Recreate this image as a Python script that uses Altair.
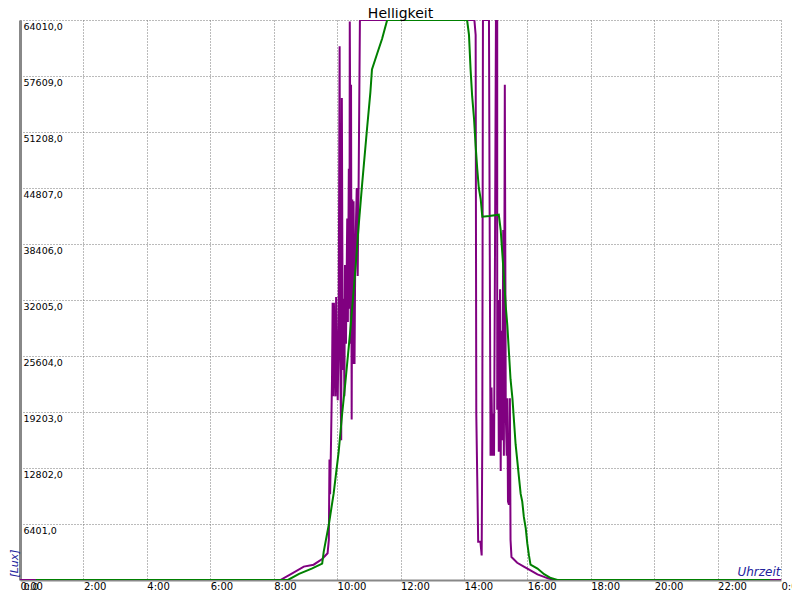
import altair as alt
import pandas as pd

# Purple series (high resolution sensor) : time in hours, value in Lux
purple_t = [0, 8.21, 8.53, 8.95, 9.26, 9.53, 9.7, 9.74, 9.76, 9.78, 9.81, 9.84, 9.86, 9.88, 9.9,
            9.95, 9.97, 10.0, 10.02, 10.05, 10.08, 10.1, 10.13, 10.15, 10.18, 10.21, 10.23, 10.25,
            10.28, 10.32, 10.34, 10.37, 10.39, 10.4, 10.42, 10.43, 10.44, 10.46, 10.48, 10.5, 10.52,
            10.55, 10.57, 10.6, 10.62, 10.65, 10.68, 10.72, 14.33, 14.37, 14.39, 14.42, 14.45, 14.52,
            14.56, 14.58, 14.6, 14.79, 14.81, 14.84, 14.87, 14.9, 14.92, 14.95, 14.98, 15.01, 15.05,
            15.05, 15.08, 15.1, 15.14, 15.16, 15.18, 15.21, 15.24, 15.26, 15.29, 15.32, 15.35, 15.37,
            15.39, 15.42, 15.45, 15.47, 15.5, 15.68, 15.89, 16.1, 16.32, 16.63, 16.84, 24]
purple_v = [0, 0, 650, 1530, 1750, 2400, 3060, 4590, 13770, 9800, 15960, 22950, 31700, 21000, 31700,
            20990, 32350, 24270, 20550, 29000, 61000, 25000, 15960, 55090, 24000, 32140, 21000, 36000,
            27000, 41320, 29500, 47000, 31000, 63840, 47500, 27000, 56620, 18360, 43500, 24700, 43300,
            24700, 35600, 41600, 44810, 34760, 45690, 64010, 64010, 62300, 19020, 11800, 4370, 4370,
            2800, 17050, 64010, 64010, 43070, 14210, 22000, 14210, 19020, 14210, 37380, 64010, 64010,
            19460, 32000, 14650, 33230, 12460, 28500, 15960, 40000, 14210, 56620, 19020, 14210, 20770,
            8960, 8600, 20770, 4590, 2620, 1970, 1530, 1090, 650, 220, 0, 0]

# Green series (averaged)
green_t = [0.5, 8.45, 8.8, 9.2, 9.53, 9.58, 9.74, 9.89, 10.05, 10.16, 10.26, 10.42, 10.58, 10.68,
           10.79, 10.95, 11.05, 11.1, 11.26, 11.42, 11.58, 14.1, 14.16, 14.21, 14.26, 14.32, 14.37,
           14.42, 14.47, 14.53, 14.58, 14.8, 15.1, 15.16, 15.21, 15.26, 15.32, 15.37, 15.42, 15.47,
           15.53, 15.58, 15.63, 15.68, 15.74, 15.79, 15.84, 15.89, 15.95, 16.0, 16.05, 16.1, 16.32,
           16.53, 16.74, 16.95, 23.65]
green_v = [0, 0, 700, 1300, 1880, 3280, 6340, 9840, 14650, 19020, 22520, 28640, 35630, 40440,
           45250, 51810, 55740, 58370, 60120, 61870, 64010, 64010, 62300, 58370, 55300, 52680, 49620,
           47000, 44810, 43500, 41530, 41600, 41750, 40000, 37380, 34760, 31260, 29070, 26010, 22950,
           20770, 18140, 15520, 13770, 11590, 9840, 8960, 7210, 5900, 4150, 2840, 1750, 1310,
           660, 220, 0, 0]

y_ticks = [0, 6401, 12802, 19203, 25604, 32005, 38406, 44807, 51208, 57609, 64010]
x_ticks = [0, 2, 4, 6, 8, 10, 12, 14, 16, 18, 20, 22, 24]

purple_df = pd.DataFrame({"t": purple_t, "v": purple_v, "i": range(len(purple_t))})
green_df = pd.DataFrame({"t": green_t, "v": green_v, "i": range(len(green_t))})

FONT = "DejaVu Sans"
TITLE_BLUE = "#22229c"

x_enc = alt.X("t:Q", scale=alt.Scale(domain=[0, 24], nice=False),
              axis=alt.Axis(values=x_ticks, labelExpr="(datum.value % 24) + ':00'",
                            labelAlign="left", labelBaseline="top", labelPadding=1,
                            tickSize=0, ticks=False,
                            labelFlush=False, labelOverlap=False, labelFontSize=10,
                            labelFont=FONT, labelColor="#000",
                            grid=True, gridDash=[1, 2], gridColor="#777", gridWidth=1,
                            domainColor="#888", domainWidth=2,
                            title="Uhrzeit", titleX=760, titleY=-2, titleAlign="right",
                            titleBaseline="bottom", titleFontStyle="italic",
                            titleFontWeight="normal", titleFontSize=12, titleFont=FONT,
                            titleColor=TITLE_BLUE))
y_enc = alt.Y("v:Q", scale=alt.Scale(domain=[0, 64010], nice=False),
              axis=alt.Axis(values=y_ticks,
                            labelExpr="replace(format(datum.value, '.1f'), '.', ',')",
                            labelAlign="left", labelBaseline="top", labelPadding=-3,
                            labelOffset=1, tickSize=0, ticks=False, labelFlush=False,
                            labelOverlap=False, labelFontSize=9.5, labelFont=FONT,
                            labelColor="#000",
                            grid=True, gridDash=[1, 2], gridColor="#777", gridWidth=1,
                            domainColor="#888", domainWidth=3,
                            title="[Lux]", titleAngle=270, titleX=-6, titleY=543,
                            titleAlign="center", titleBaseline="middle",
                            titleFontStyle="italic", titleFontWeight="normal",
                            titleFontSize=11, titleFont=FONT, titleColor=TITLE_BLUE))

purple = alt.Chart(purple_df).mark_line(color="#800080", strokeWidth=2, clip=True).encode(
    x=x_enc, y=y_enc, order="i:Q")
green = alt.Chart(green_df).mark_line(color="#008000", strokeWidth=2, clip=True).encode(
    x=alt.X("t:Q"), y=alt.Y("v:Q"), order="i:Q")

chart = alt.layer(purple, green).properties(
    width=761, height=560,
    title=alt.TitleParams("Helligkeit", fontSize=14, fontWeight="normal", font=FONT,
                          offset=0, dy=1, anchor="middle", color="#000"),
    autosize=alt.AutoSizeParams(type="none"),
    padding={"left": 12, "top": 12, "right": 11, "bottom": 10},
).configure_view(stroke=None)

chart.save("out.html", embed_options={"renderer": "svg", "actions": False})
